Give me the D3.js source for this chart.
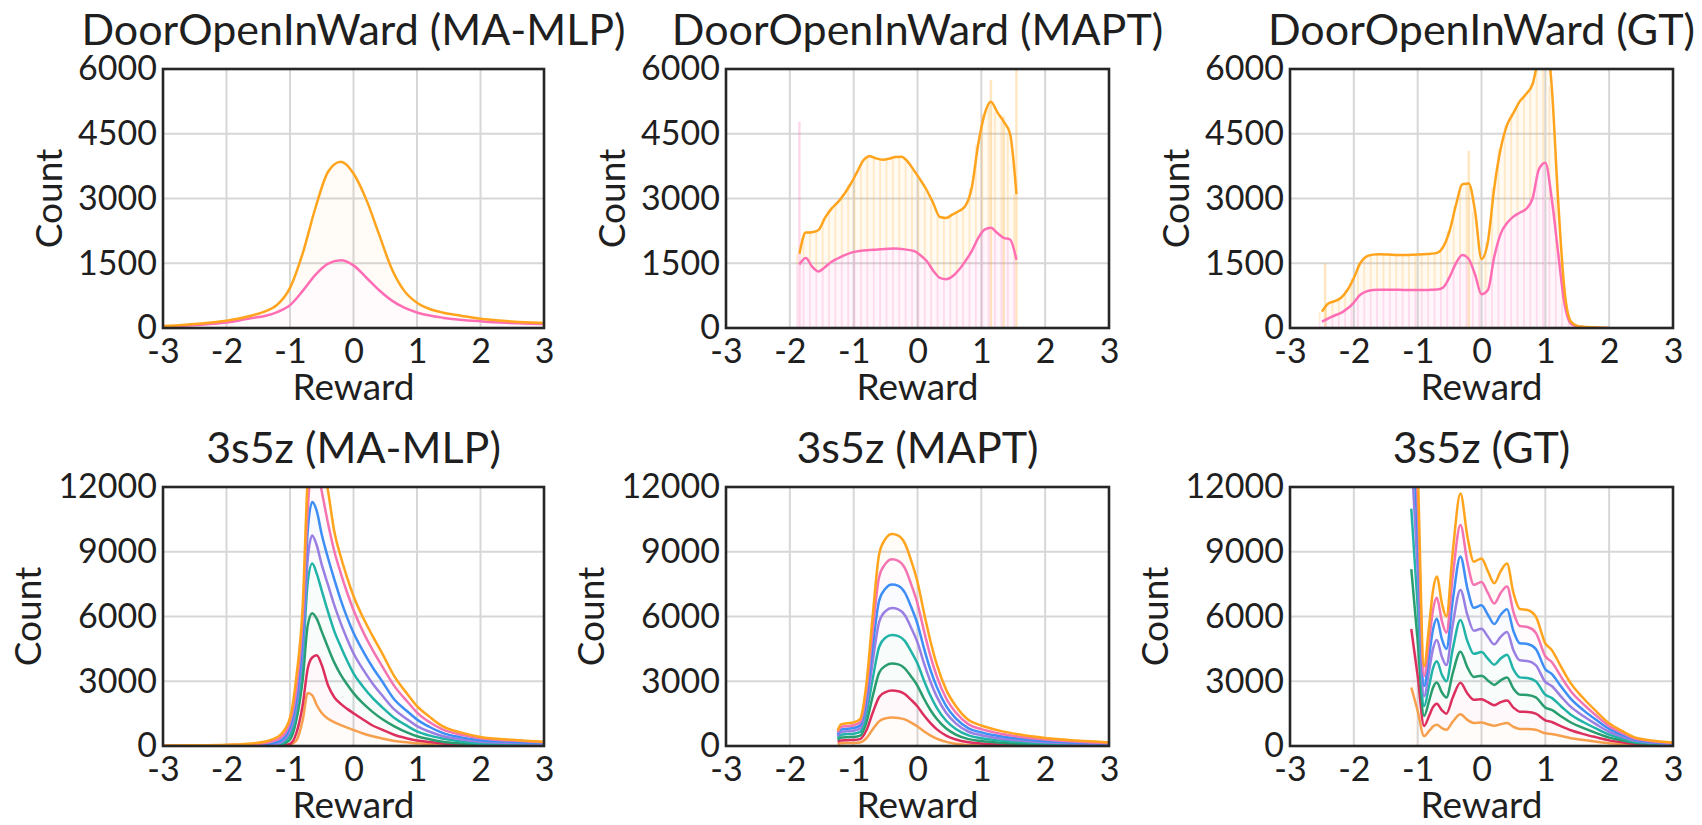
<!DOCTYPE html>
<html><head><meta charset="utf-8">
<script src="https://cdn.jsdelivr.net/npm/d3@7"></script>
<style>
html,body{margin:0;padding:0;background:#fff;}
svg{display:block;}
text{font-family:Lato,"Open Sans",sans-serif;fill:#1f1f1f;}
</style></head><body>
<svg id="chart" width="1702" height="825"></svg>
<script>
// ---------------- DATA ----------------
const xTicks = [-3, -2, -1, 0, 1, 2, 3];
const yTicksDoor = [0, 1500, 3000, 4500, 6000];
const yTicksSmac = [0, 3000, 6000, 9000, 12000];

const titles = ["DoorOpenInWard (MA-MLP)", "DoorOpenInWard (MAPT)", "DoorOpenInWard (GT)",
                "3s5z (MA-MLP)", "3s5z (MAPT)", "3s5z (GT)"];

const doorColors = ["#ff6eb4", "#ffa41c"];                 // lower layer, stacked total
const smacColors = ["#f6a04d", "#dc2f5e", "#2a9d6f", "#22b3a8",
                    "#9a7fe3", "#3d8ef5", "#f473b2", "#ffa41c"]; // bottom -> top

// DoorOpenInWard (MA-MLP): bins every 0.2
const doorMlpX = d3.range(-3, 3.0001, 0.2).map(v => +v.toFixed(2));
const doorMlpPink   = [25, 40, 58, 78, 100, 130, 175, 230, 280, 370, 530, 860, 1230, 1490, 1570, 1450, 1170, 880, 640, 470, 360, 290, 240, 200, 175, 155, 135, 120, 110, 100, 95];
const doorMlpOrange = [45, 60, 80, 105, 135, 170, 220, 290, 380, 540, 930, 1730, 2780, 3620, 3850, 3580, 2980, 2180, 1380, 860, 585, 440, 360, 305, 260, 215, 185, 160, 140, 125, 115];

// DoorOpenInWard (MAPT): bins every 0.1
const doorMaptX = d3.range(-1.85, 1.5501, 0.1).map(v => +v.toFixed(2));
const doorMaptPink   = [1470, 1620, 1420, 1310, 1410, 1530, 1610, 1680, 1740, 1775, 1795, 1808, 1815, 1825, 1835, 1840, 1830, 1810, 1780, 1680, 1540, 1320, 1160, 1130, 1200, 1350, 1550, 1780, 2080, 2280, 2320, 2200, 2090, 2050, 1580];
const doorMaptOrange = [1720, 2210, 2220, 2270, 2550, 2760, 2910, 3100, 3330, 3600, 3880, 3980, 3930, 3900, 3920, 3960, 3970, 3850, 3640, 3420, 3180, 2880, 2570, 2550, 2630, 2710, 2830, 3250, 4250, 4950, 5240, 5000, 4780, 4500, 3100];
const doorMaptSpikeX = [-1.85, 1.15, 1.35, 1.55];
const doorMaptSpikeV = [4780, 5750, 4900, 6000];

// DoorOpenInWard (GT): bins every 0.1
const doorGtX = d3.range(-2.5, 2.0001, 0.1).map(v => +v.toFixed(2));
const doorGtPink   = [150, 220, 290, 350, 450, 590, 770, 850, 880, 885, 888, 888, 885, 882, 880, 878, 880, 885, 890, 940, 1180, 1500, 1690, 1600, 1230, 780, 880, 1650, 2180, 2430, 2580, 2670, 2760, 3000, 3680, 3830, 3000, 1750, 560, 100, 40, 20, 10, 5, 2, 0];
const doorGtOrange = [380, 565, 620, 700, 880, 1160, 1500, 1660, 1700, 1710, 1705, 1695, 1690, 1690, 1695, 1700, 1710, 1720, 1740, 1880, 2250, 2850, 3330, 3350, 2700, 1600, 2000, 3250, 4150, 4700, 4980, 5250, 5420, 5650, 6300, 6700, 5600, 2970, 875, 150, 50, 30, 20, 12, 5, 0];
const doorGtSpikeX = [-2.45, -0.2];
const doorGtSpikeV = [1500, 4100];

// 3s5z (MA-MLP)
const smacMlpX = [-3, -2.5, -2, -1.6, -1.3, -1.15, -1.0, -0.9, -0.8, -0.72, -0.65, -0.58, -0.5, -0.4, -0.3, -0.2, -0.1, 0.0, 0.15, 0.3, 0.45, 0.65, 0.85, 1.0, 1.2, 1.4, 1.7, 2.0, 2.5, 3.0];
const smacMlp1 = [0, 0, 1, 2, 5, 10, 60, 250, 1200, 2450, 2350, 1900, 1530, 1260, 1100, 970, 850, 740, 580, 450, 350, 230, 170, 125, 90, 65, 40, 25, 15, 10];
const smacMlp2 = [0, 1, 2, 4, 10, 20, 100, 600, 1900, 3600, 4100, 4200, 3750, 2800, 2250, 1950, 1720, 1520, 1230, 950, 760, 510, 350, 255, 180, 120, 70, 45, 30, 25];
const smacMlp3 = [1, 2, 4, 8, 25, 60, 300, 1200, 3100, 5600, 6150, 5900, 5300, 4550, 3850, 3300, 2850, 2450, 1970, 1580, 1250, 900, 620, 450, 310, 200, 120, 75, 50, 40];
const smacMlp4 = [2, 4, 8, 15, 40, 100, 500, 1600, 4000, 7600, 8450, 8000, 7200, 6200, 5300, 4600, 3950, 3370, 2750, 2230, 1800, 1280, 920, 680, 480, 350, 210, 120, 80, 60];
const smacMlp5 = [4, 8, 15, 30, 70, 160, 700, 1900, 4600, 8700, 9750, 9300, 8400, 7450, 6500, 5680, 4950, 4300, 3550, 2900, 2350, 1670, 1230, 920, 660, 460, 300, 200, 140, 105];
const smacMlp6 = [8, 12, 25, 50, 120, 250, 900, 2200, 5200, 10000, 11300, 10900, 9800, 8700, 7700, 6760, 5950, 5250, 4400, 3650, 3000, 2130, 1600, 1230, 880, 610, 400, 270, 190, 140];
const smacMlp7 = [12, 20, 40, 80, 200, 380, 1100, 2600, 5850, 11000, 13000, 13000, 11800, 10300, 9000, 8000, 7100, 6300, 5300, 4450, 3700, 2750, 2050, 1550, 1100, 770, 520, 360, 250, 175];
const smacMlp8 = [20, 30, 60, 120, 280, 520, 1300, 3200, 6500, 12500, 14500, 14500, 13500, 11800, 9900, 8770, 7800, 6950, 5950, 5100, 4300, 3200, 2400, 1850, 1350, 920, 620, 420, 290, 200];

// 3s5z (MAPT)
const smacMaptX = [-1.25, -1.2, -1.1, -1.0, -0.9, -0.8, -0.7, -0.6, -0.5, -0.4, -0.3, -0.2, -0.1, 0.0, 0.1, 0.2, 0.3, 0.45, 0.6, 0.8, 1.0, 1.3, 1.6, 2.0, 2.5, 3.0];
const smacMapt1 = [90, 130, 135, 140, 160, 360, 780, 1150, 1280, 1320, 1300, 1230, 1080, 900, 680, 490, 340, 190, 100, 45, 25, 12, 8, 5, 3, 2];
const smacMapt2 = [190, 260, 270, 280, 320, 730, 1550, 2270, 2500, 2570, 2540, 2410, 2140, 1830, 1420, 1070, 780, 480, 300, 170, 115, 70, 50, 30, 20, 15];
const smacMapt3 = [280, 390, 410, 420, 480, 1100, 2330, 3400, 3720, 3820, 3780, 3600, 3220, 2790, 2200, 1680, 1260, 810, 530, 320, 230, 150, 105, 70, 45, 30];
const smacMapt4 = [370, 520, 550, 570, 650, 1500, 3150, 4600, 5020, 5140, 5090, 4870, 4380, 3820, 3050, 2350, 1780, 1170, 790, 490, 360, 250, 180, 120, 80, 50];
const smacMapt5 = [460, 650, 680, 710, 810, 1870, 3950, 5750, 6250, 6390, 6330, 6070, 5480, 4800, 3850, 3000, 2300, 1530, 1050, 660, 500, 350, 260, 175, 115, 75];
const smacMapt6 = [540, 760, 800, 830, 950, 2200, 4650, 6750, 7300, 7480, 7420, 7120, 6450, 5650, 4550, 3550, 2750, 1850, 1280, 820, 630, 450, 340, 230, 150, 100];
const smacMapt7 = [630, 880, 920, 960, 1100, 2550, 5400, 7850, 8450, 8650, 8580, 8250, 7500, 6600, 5350, 4200, 3250, 2200, 1550, 1000, 780, 570, 430, 300, 200, 130];
const smacMapt8 = [720, 1000, 1050, 1090, 1250, 2900, 6100, 8900, 9600, 9820, 9750, 9400, 8600, 7600, 6200, 4900, 3800, 2600, 1850, 1200, 950, 700, 530, 370, 250, 160];

// 3s5z (GT)
const smacGtX = [-1.1, -1.0, -0.9, -0.82, -0.76, -0.7, -0.62, -0.55, -0.45, -0.33, -0.22, -0.12, 0.0, 0.1, 0.2, 0.3, 0.4, 0.5, 0.6, 0.72, 0.85, 1.0, 1.1, 1.25, 1.4, 1.6, 1.8, 2.0, 2.2, 2.4, 2.6, 2.8, 3.0];
const smacGt1 = [2710, 1630, 460, 700, 900, 980, 830, 750, 1130, 1470, 1210, 1070, 1090, 1010, 940, 1010, 1060, 890, 790, 790, 750, 590, 560, 460, 360, 280, 200, 130, 90, 50, 35, 26, 19];
const smacGt2 = [5420, 3250, 930, 1400, 1800, 1960, 1650, 1500, 2250, 2930, 2430, 2140, 2170, 2030, 1890, 2030, 2110, 1780, 1590, 1580, 1500, 1190, 1110, 910, 730, 550, 400, 260, 175, 100, 70, 53, 39];
const smacGt3 = [8200, 4880, 1390, 2100, 2700, 2940, 2480, 2250, 3380, 4370, 3640, 3200, 3260, 3040, 2830, 3040, 3170, 2660, 2380, 2360, 2250, 1780, 1670, 1370, 1090, 830, 600, 390, 260, 150, 105, 80, 58];
const smacGt4 = [11000, 6500, 1850, 2800, 3600, 3930, 3300, 3000, 4500, 5840, 4850, 4270, 4350, 4050, 3770, 4050, 4230, 3550, 3180, 3150, 3000, 2380, 2230, 1830, 1450, 1100, 800, 525, 350, 200, 140, 105, 78];
const smacGt5 = [13600, 8130, 2310, 3500, 4500, 4910, 4130, 3750, 5630, 7230, 6060, 5340, 5430, 5060, 4710, 5060, 5280, 4440, 3970, 3940, 3750, 2970, 2780, 2280, 1810, 1380, 1000, 660, 440, 250, 175, 130, 95];
const smacGt6 = [16400, 9750, 2780, 4200, 5400, 5890, 4950, 4500, 6750, 8780, 7280, 6400, 6520, 6080, 5650, 6080, 6340, 5330, 4760, 4730, 4500, 3560, 3340, 2740, 2180, 1650, 1200, 790, 525, 300, 210, 160, 115];
const smacGt7 = [19100, 11400, 3240, 4900, 6300, 6870, 5780, 5250, 7880, 10240, 8490, 7470, 7600, 7090, 6600, 7090, 7390, 6210, 5560, 5510, 5250, 4160, 3890, 3190, 2540, 1930, 1400, 920, 610, 350, 245, 185, 135];
const smacGt8 = [21800, 13000, 3700, 5600, 7200, 7850, 6600, 6000, 9000, 11700, 9700, 8540, 8690, 8100, 7540, 8100, 8450, 7100, 6350, 6300, 6000, 4750, 4450, 3650, 2900, 2200, 1600, 1050, 700, 400, 280, 210, 155];

// ---------------- PANELS ----------------
const panels = [
  {row:0, col:0, xs:doorMlpX,  series:[doorMlpPink, doorMlpOrange],   colors:doorColors, yMax:6000,  yTicks:yTicksDoor, fill:0.035, stripes:false, spikeX:[], spikeV:[]},
  {row:0, col:1, xs:doorMaptX, series:[doorMaptPink, doorMaptOrange], colors:doorColors, yMax:6000,  yTicks:yTicksDoor, fill:0.06, stripes:true,  spikeX:doorMaptSpikeX, spikeV:doorMaptSpikeV},
  {row:0, col:2, xs:doorGtX,   series:[doorGtPink, doorGtOrange],     colors:doorColors, yMax:6000,  yTicks:yTicksDoor, fill:0.06, stripes:true,  spikeX:doorGtSpikeX, spikeV:doorGtSpikeV},
  {row:1, col:0, xs:smacMlpX,  series:[smacMlp1, smacMlp2, smacMlp3, smacMlp4, smacMlp5, smacMlp6, smacMlp7, smacMlp8], colors:smacColors, yMax:12000, yTicks:yTicksSmac, fill:0.03, stripes:false, spikeX:[], spikeV:[]},
  {row:1, col:1, xs:smacMaptX, series:[smacMapt1, smacMapt2, smacMapt3, smacMapt4, smacMapt5, smacMapt6, smacMapt7, smacMapt8], colors:smacColors, yMax:12000, yTicks:yTicksSmac, fill:0.03, stripes:false, spikeX:[], spikeV:[]},
  {row:1, col:2, xs:smacGtX,   series:[smacGt1, smacGt2, smacGt3, smacGt4, smacGt5, smacGt6, smacGt7, smacGt8], colors:smacColors, yMax:12000, yTicks:yTicksSmac, fill:0.03, stripes:false, spikeX:[], spikeV:[]}
];

// ---------------- LAYOUT ----------------
const colBox = [[163, 544], [726, 1109], [1290, 1673]];
const rowBox = [[69, 328], [487, 746]];
const countOffset = [101, 122];

const svg = d3.select("#chart");

panels.forEach((p, i) => {
  const [x0, x1] = colBox[p.col];
  const [y0, y1] = rowBox[p.row];
  const x = d3.scaleLinear().domain([-3, 3]).range([x0, x1]);
  const y = d3.scaleLinear().domain([0, p.yMax]).range([y1, y0]);
  const g = svg.append("g");

  const clipId = "clip" + i;
  svg.append("clipPath").attr("id", clipId)
     .append("rect").attr("x", x0).attr("y", y0).attr("width", x1 - x0).attr("height", y1 - y0);

  // grid
  g.append("g").selectAll("line").data(xTicks.slice(1, -1)).join("line")
    .attr("x1", d => x(d)).attr("x2", d => x(d)).attr("y1", y0).attr("y2", y1)
    .attr("stroke", "#d7d7d7").attr("stroke-width", 2);
  g.append("g").selectAll("line").data(p.yTicks.slice(1, -1)).join("line")
    .attr("y1", d => y(d)).attr("y2", d => y(d)).attr("x1", x0).attr("x2", x1)
    .attr("stroke", "#d7d7d7").attr("stroke-width", 2);

  const plot = g.append("g").attr("clip-path", `url(#${clipId})`);

  // faint stacked bands
  p.series.forEach((s, k) => {
    const lower = k === 0 ? null : p.series[k - 1];
    const area = d3.area()
      .x((d, j) => x(p.xs[j]))
      .y0((d, j) => y(lower ? lower[j] : 0))
      .y1((d, j) => y(d))
      .curve(d3.curveMonotoneX);
    plot.append("path").attr("d", area(s))
      .attr("fill", p.colors[k]).attr("fill-opacity", p.fill);
  });

  // histogram-like stripes
  if (p.stripes) {
    const binPx = x(p.xs[1]) - x(p.xs[0]);
    p.series.forEach((s, k) => {
      const lower = k === 0 ? null : p.series[k - 1];
      plot.append("g").selectAll("rect").data(s).join("rect")
        .attr("x", (d, j) => x(p.xs[j]) - binPx * 0.5)
        .attr("width", 1.8)
        .attr("y", d => y(d))
        .attr("height", (d, j) => Math.max(0, y(lower ? lower[j] : 0) - y(d)))
        .attr("fill", p.colors[k]).attr("fill-opacity", 0.2);
    });
  }
  // isolated tall bins
  p.spikeX.forEach((sx, j) => {
    plot.append("rect").attr("x", x(sx) - 1.2).attr("width", 2.4)
      .attr("y", y(p.spikeV[j])).attr("height", y(0) - y(p.spikeV[j]))
      .attr("fill", j === 0 && i === 1 ? p.colors[0] : p.colors[1]).attr("fill-opacity", 0.28);
  });

  // lines
  const line = d3.line().x((d, j) => x(p.xs[j])).y(d => y(d)).curve(d3.curveMonotoneX);
  p.series.forEach((s, k) => {
    plot.append("path").attr("d", line(s)).attr("fill", "none")
      .attr("stroke", p.colors[k]).attr("stroke-width", 2.5).attr("stroke-linejoin", "round");
  });

  // frame
  g.append("rect").attr("x", x0).attr("y", y0).attr("width", x1 - x0).attr("height", y1 - y0)
    .attr("fill", "none").attr("stroke", "#262626").attr("stroke-width", 2.6);

  // axes
  const ax = g.append("g").attr("transform", `translate(0,${y1})`)
    .call(d3.axisBottom(x).tickValues(xTicks).tickSize(0).tickPadding(11).tickFormat(d => String(d)));
  ax.select(".domain").remove();
  ax.selectAll("text").attr("font-size", 34).attr("font-family", "Lato").attr("fill", "#1f1f1f");

  const ay = g.append("g").attr("transform", `translate(${x0},0)`)
    .call(d3.axisLeft(y).tickValues(p.yTicks).tickSize(0).tickPadding(6).tickFormat(d3.format("d")));
  ay.select(".domain").remove();
  ay.selectAll("text").attr("font-size", 34).attr("font-family", "Lato").attr("fill", "#1f1f1f");

  // labels
  g.append("text").attr("x", (x0 + x1) / 2).attr("y", y1 + 72).attr("text-anchor", "middle")
    .attr("font-size", 37).text("Reward");
  g.append("text").attr("transform", `translate(${x0 - countOffset[p.row]},${(y0 + y1) / 2}) rotate(-90)`)
    .attr("text-anchor", "middle").attr("font-size", 37).text("Count");
  g.append("text").attr("x", (x0 + x1) / 2).attr("y", y0 - 24).attr("text-anchor", "middle")
    .attr("font-size", 43).text(titles[i]);
});
</script>
</body></html>
